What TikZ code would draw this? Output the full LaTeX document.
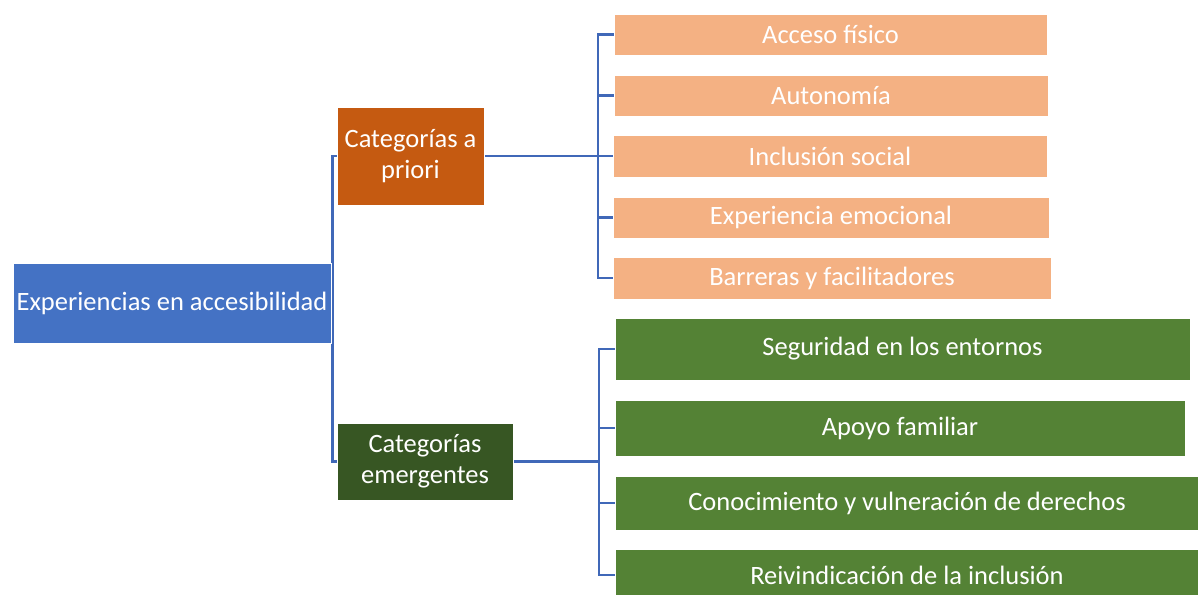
\documentclass[tikz,border=0pt]{standalone}
\usepackage{fontspec}
\setmainfont{Carlito}
\usepackage{tikz}
\usetikzlibrary{backgrounds}

\definecolor{rootblue}{HTML}{4472C4}
\definecolor{linkblue}{HTML}{4068B8}
\definecolor{apriorifill}{HTML}{C55A11}
\definecolor{apriorileaf}{HTML}{F4B183}
\definecolor{emergfill}{HTML}{375623}
\definecolor{emergleaf}{HTML}{548235}

\begin{document}
\begin{tikzpicture}[x=1pt,y=-1pt,
    font=\fontsize{26.5}{31}\selectfont,
    rootbox/.style={rectangle,draw=white,line width=0.8pt,fill=rootblue,text=white,
      inner sep=0pt,outer sep=0pt,align=center},
    catbox/.style={rootbox,fill=#1},
    leafbox/.style={rootbox,fill=#1},
    link/.style={draw=linkblue,line width=2.7pt}]
    \useasboundingbox (0,0) rectangle (1198,594);
    \clip (0,0) rectangle (1198,594);

    \node[rootbox,minimum width=318,minimum height=80] (root) at (172,303) {Experiencias en accesibilidad};
    \node[catbox=apriorifill,minimum width=147,minimum height=98] (apriori) at (410.5,156) {Categorías a\\priori};
    \node[catbox=emergfill,minimum width=176,minimum height=77] (emerg) at (425,461.5) {Categorías\\emergentes};

    \node[leafbox=apriorileaf,minimum width=433,minimum height=41] (acceso) at (830.5,34.5) {Acceso físico};
    \node[leafbox=apriorileaf,minimum width=434,minimum height=41] (autonomia) at (831,95.5) {Autonomía};
    \node[leafbox=apriorileaf,minimum width=434,minimum height=42] (inclusion) at (830,156) {Inclusión social};
    \node[leafbox=apriorileaf,minimum width=436,minimum height=41] (emocional) at (831,217.5) {Experiencia emocional};
    \node[leafbox=apriorileaf,minimum width=438,minimum height=42] (barreras) at (832,278) {Barreras y facilitadores};

    \node[leafbox=emergleaf,minimum width=575,minimum height=62] (seguridad) at (902.5,349) {Seguridad en los entornos};
    \node[leafbox=emergleaf,minimum width=570,minimum height=56] (apoyo) at (900,428) {Apoyo familiar};
    \node[leafbox=emergleaf,minimum width=584,minimum height=54] (derechos) at (907,503) {Conocimiento y vulneración de derechos};
    \node[leafbox=emergleaf,minimum width=584,minimum height=52] (reivindica) at (907,575) {Reivindicación de la inclusión};

    \coordinate (rootfork) at (332.5,303);
    \coordinate (afork) at (598,156);
    \coordinate (efork) at (599,461.5);

    \begin{scope}[on background layer]
    \fill[white] (0,0) rectangle (1198,594);
    \draw[link] (root.east) -- (rootfork);
    \draw[link] (rootfork) |- (apriori.west);
    \draw[link] (rootfork) |- (emerg.west);
    \draw[link] (apriori.east) -- (afork);
    \draw[link] (afork) |- (acceso.west);
    \draw[link] (afork) |- (autonomia.west);
    \draw[link] (afork) |- (inclusion.west);
    \draw[link] (afork) |- (emocional.west);
    \draw[link] (afork) |- (barreras.west);
    \draw[link] (emerg.east) -- (efork);
    \draw[link] (efork) |- (seguridad.west);
    \draw[link] (efork) |- (apoyo.west);
    \draw[link] (efork) |- (derechos.west);
    \draw[link] (efork) |- (reivindica.west);
    \end{scope}
\end{tikzpicture}
\end{document}
